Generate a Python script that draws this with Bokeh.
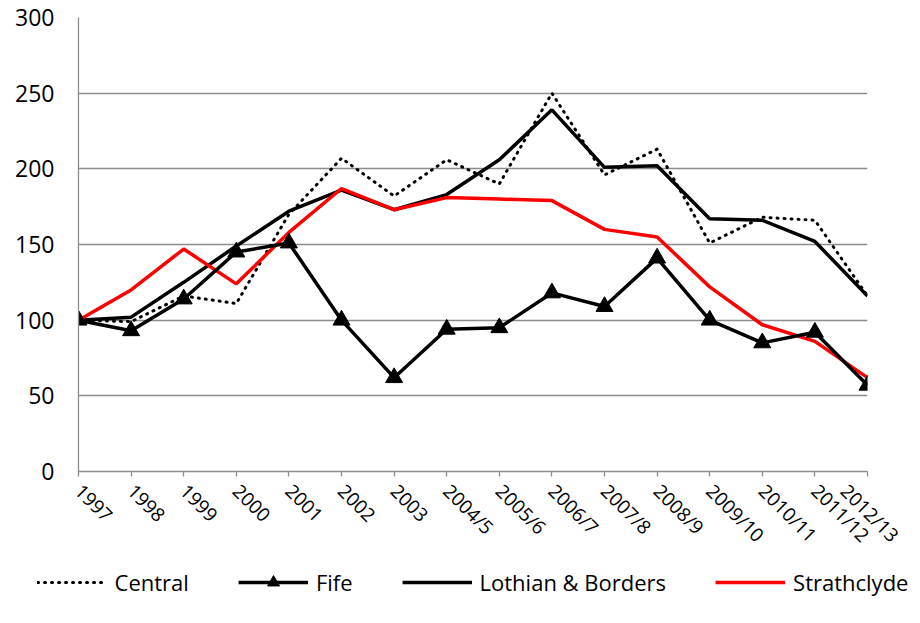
import math
from bokeh.plotting import figure
from bokeh.layouts import column
from bokeh.models import Range1d, FixedTicker, Legend, LegendItem
from bokeh.embed import file_html
from bokeh.resources import INLINE

years = ["1997", "1998", "1999", "2000", "2001", "2002", "2003", "2004/5",
         "2005/6", "2006/7", "2007/8", "2008/9", "2009/10", "2010/11",
         "2011/12", "2012/13"]
central = [100, 99, 116, 111, 170, 207, 182, 206, 190, 250, 196, 213, 151, 168, 166, 116]
fife = [100, 93, 114, 145, 151, 100, 62, 94, 95, 118, 109, 141, 100, 85, 92, 57]
lothian = [100, 102, 125, 149, 172, 186, 173, 183, 206, 239, 201, 202, 167, 166, 152, 116]
strathclyde = [100, 120, 147, 124, 158, 187, 173, 181, 180, 179, 160, 155, 122, 97, 86, 62]
y_ticks = [0, 50, 100, 150, 200, 250, 300]
series_names = ["Central", "Fife", "Lothian & Borders", "Strathclyde"]

xs = list(range(len(years)))

p = figure(width=904, height=559, output_backend="svg", toolbar_location=None,
           x_range=Range1d(0, len(years) - 1), y_range=Range1d(0, 300),
           min_border_left=78, min_border_right=37, min_border_top=17,
           min_border_bottom=87)
p.outline_line_color = None
p.background_fill_color = "white"
p.border_fill_color = "white"

grid_col = "#8c8c8c"
p.xgrid.grid_line_color = None
p.ygrid.grid_line_color = grid_col
p.ygrid.grid_line_width = 1.3
p.yaxis.ticker = FixedTicker(ticks=y_ticks)
p.xaxis.ticker = FixedTicker(ticks=xs)
p.xaxis.major_label_overrides = {i: y for i, y in enumerate(years)}
p.xaxis.major_label_orientation = -math.pi / 4
p.xaxis.axis_line_color = grid_col
p.xaxis.axis_line_width = 1.3
p.xaxis.major_tick_line_color = grid_col
p.xaxis.major_tick_line_width = 1.3
p.xaxis.major_tick_out = 5
p.xaxis.major_tick_in = 0
p.xaxis.minor_tick_line_color = None
p.xaxis.major_label_text_font = "Open Sans"
p.xaxis.major_label_text_font_size = "19px"
p.xaxis.major_label_text_color = "black"
p.xaxis.major_label_standoff = 11

p.yaxis.axis_line_color = grid_col
p.yaxis.axis_line_width = 1.3
p.yaxis.major_tick_line_color = None
p.yaxis.minor_tick_line_color = None
p.yaxis.major_label_text_font = "Open Sans"
p.yaxis.major_label_text_font_size = "23px"
p.yaxis.major_label_text_color = "black"
p.yaxis.major_label_standoff = 18

central_style = dict(line_color="black", line_width=3, line_dash="1 6", line_cap="round")
solid_black = dict(line_color="black", line_width=3.5)
red_style = dict(line_color="#ff0000", line_width=3.5)
tri_style = dict(marker="triangle", fill_color="black", line_color="black")

p.line(xs, central, **central_style)
p.line(xs, lothian, **solid_black)
p.line(xs, strathclyde, **red_style)
p.line(xs, fife, **solid_black)
p.scatter(xs, fife, size=17, **tri_style)

# legend strip below the chart (its renderers lie outside its visible range)
lg = figure(width=904, height=64, output_backend="svg", toolbar_location=None,
            x_range=Range1d(0, len(years) - 1), y_range=Range1d(-20, -10),
            min_border=0)
lg.axis.visible = False
lg.grid.visible = False
lg.outline_line_color = None
lg.border_fill_color = "white"
lg.background_fill_color = "white"

e_central = lg.line(xs, central, **central_style)
e_fife = lg.line(xs, fife, **solid_black)
e_fife_m = lg.scatter(xs, fife, size=17, **tri_style)
e_lothian = lg.line(xs, lothian, **solid_black)
e_strath = lg.line(xs, strathclyde, **red_style)

legend = Legend(items=[
    LegendItem(label=series_names[0], renderers=[e_central]),
    LegendItem(label=series_names[1], renderers=[e_fife, e_fife_m]),
    LegendItem(label=series_names[2], renderers=[e_lothian]),
    LegendItem(label=series_names[3], renderers=[e_strath]),
], orientation="horizontal", location="center", nrows=1)
legend.glyph_width = 70
legend.glyph_height = 30
legend.label_text_font = "Open Sans"
legend.label_text_font_size = "22px"
legend.label_text_color = "black"
legend.label_standoff = 8
legend.spacing = 49
legend.padding = 0
legend.margin = 0
legend.border_line_color = None
legend.background_fill_alpha = 0
lg.add_layout(legend, "above")

layout = column(p, lg, spacing=0)
open("out.html", "w").write(file_html(layout, INLINE))
